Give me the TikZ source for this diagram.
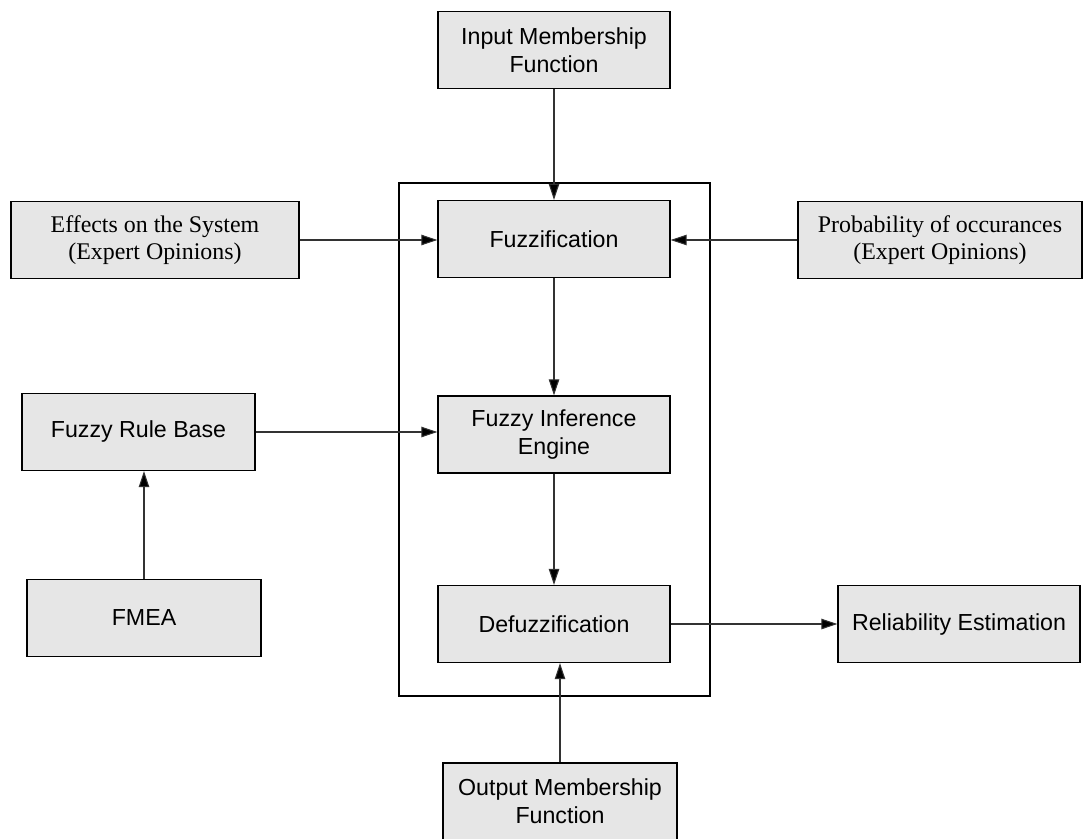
\documentclass[tikz,border=0pt]{standalone}
\usepackage{fontspec}
\setmainfont{Liberation Sans}
\newfontfamily\timesfont{Liberation Serif}
\usepackage{tikz}
\usetikzlibrary{arrows.meta}
\definecolor{BoxGray}{RGB}{230, 230, 230}
\definecolor{LinkGray}{RGB}{50, 50, 50}

\tikzset{
    block/.style={draw=black, line width=0.75pt, fill=BoxGray, align=center, inner sep=2pt,
        minimum width=4.64cm, minimum height=1.54cm, font=\fontsize{13.2}{16}\selectfont},
    expert/.style={block, font=\timesfont\fontsize{13.6}{15.6}\selectfont},
    link/.style={draw=LinkGray, line width=0.6pt, -{Triangle[length=0.32cm, width=0.21cm, fill=black]}}
}

\begin{document}
\begin{tikzpicture}
    \useasboundingbox (0,0) rectangle (21.66,-16.78);

    % Fuzzy inference system
    \draw[line width=0.75pt] (7.98,-3.66) rectangle (14.2,-13.92);
    \node[block] (fuzz) at (11.08,-4.78) {Fuzzification};
    \node[block] (infer) at (11.08,-8.69) {Fuzzy Inference\\Engine};
    \node[block] (defuzz) at (11.08,-12.48) {Defuzzification};

    % Membership functions
    \node[block] (inmf) at (11.08,-1.0) {Input Membership\\Function};
    \node[block, minimum width=4.68cm] (outmf) at (11.2,-16.03) {Output Membership\\Function};

    % Expert opinions
    \node[expert, minimum width=5.76cm] (effects) at (3.10,-4.80) {Effects on the System\\(Expert Opinions)};
    \node[expert, minimum width=5.68cm] (prob) at (18.8,-4.80) {Probability of occurances\\(Expert Opinions)};

    % Rule base and FMEA
    \node[block, minimum width=4.66cm] (rules) at (2.77,-8.64) {Fuzzy Rule Base};
    \node[block, minimum width=4.68cm] (fmea) at (2.88,-12.36) {FMEA};

    % Result
    \node[block, minimum width=4.84cm] (reliab) at (19.18,-12.48) {Reliability Estimation};

    % Connectors
    \draw[link] (inmf) -- (fuzz);
    \draw[link] (fuzz) -- (infer);
    \draw[link] (infer) -- (defuzz);
    \draw[link] (outmf.north) -- (outmf.north |- defuzz.south);
    \draw[link] (effects.east) -- (effects.east -| fuzz.west);
    \draw[link] (prob.west) -- (prob.west -| fuzz.east);
    \draw[link] (rules.east) -- (rules.east -| infer.west);
    \draw[link] (fmea.north) -- (fmea.north |- rules.south);
    \draw[link] (defuzz) -- (reliab);
\end{tikzpicture}
\end{document}
